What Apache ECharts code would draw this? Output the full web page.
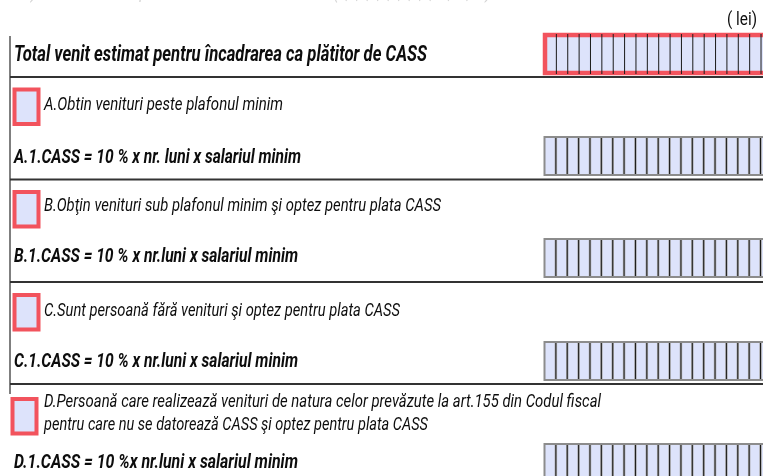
<!DOCTYPE html>
<html>
<head>
<meta charset="utf-8">
<script src="https://cdn.jsdelivr.net/npm/echarts@6/dist/echarts.min.js"></script>
<style>
  html, body { margin: 0; padding: 0; background: #fff; }
  #main { width: 763px; height: 476px; }
</style>
</head>
<body>
<div id="main"></div>
<script>
// texts of the form section
const headerText = "12.3.) Numărul de luni pentru care se datorează CASS (1,2,3,4,5,6,7,8,9,10,11,12)";
const unitLabel = "( lei)";
const titleText = "Total venit estimat pentru încadrarea ca plătitor de CASS";
const optionLabels = [
  ["A.Obtin venituri peste plafonul minim"],
  ["B.Obţin venituri sub plafonul minim şi optez pentru plata CASS"],
  ["C.Sunt persoană fără venituri şi optez pentru plata CASS"],
  ["D.Persoană care realizează venituri de natura celor prevăzute la art.155 din Codul fiscal",
   "pentru care nu se datorează CASS şi optez pentru plata CASS"]
];
const formulaLabels = [
  "A.1.CASS = 10 % x nr. luni x salariul minim",
  "B.1.CASS = 10 % x nr.luni x salariul minim",
  "C.1.CASS = 10 % x nr.luni x salariul minim",
  "D.1.CASS = 10 %x nr.luni x salariul minim"
];
const cellCount = 20;

// layout (px)
const sectionTop = [87.5, 190, 293, 397];
const optionY = [[105], [206], [311.5], [402, 425]];
const optionW = [[239], [397], [356], [557, 384]];
const formulaY = [157.5, 257, 362, 463];
const formulaW = [287, 284, 284, 284];
const boxTop = [137, 239, 342, 444];
const ruleY = [77, 179.5, 282, 384];

const RED = "#f2535d";
const FILL = "#dde3fb";
const FONT = "Roboto, 'Noto Sans', sans-serif";

const ctx = document.createElement("canvas").getContext("2d");
const measure = (text, font) => { ctx.font = font; return ctx.measureText(text).width; };

const fitText = (text, x, y, width, font, fill) => ({
  type: "text",
  x: x, y: y,
  scaleX: width / measure(text, font),
  style: { text: text, x: 0, y: 0, font: font, fill: fill || "#0d0d0d", align: "left", verticalAlign: "middle" }
});

const cells = (top, height, red) => {
  const left = red ? 545 : 544.5, cw = 11.37;
  const els = [{
    type: "rect",
    shape: { x: left, y: top, width: cw * cellCount, height: height },
    style: { fill: FILL, stroke: red ? RED : "#8c8c8c", lineWidth: red ? 4.5 : 2 }
  }];
  for (let i = 1; i < cellCount; i++) {
    const x = left + i * cw;
    if (!red) {
      els.push({ type: "line", shape: { x1: x, y1: top + 1, x2: x, y2: top + height - 1 },
        style: { stroke: "#a8a8a8", lineWidth: 2.5 } });
    }
    els.push({ type: "line", shape: { x1: x, y1: top - (red ? 2 : 0) + 1, x2: x, y2: top + height + (red ? 2 : 0) - 1 },
      style: { stroke: "#1a1a1a", lineWidth: 1 } });
  }
  return els;
};

const checkbox = (x, top) => ({
  type: "rect",
  shape: { x: x + 2, y: top + 2, width: 24, height: 34.5 },
  style: { fill: FILL, stroke: RED, lineWidth: 4 }
});

const elements = [];

// faded header cut at top
elements.push(fitText(headerText, 0, -5, 490, "italic 16px " + FONT, "#d4d4d4"));
elements.push(fitText(unitLabel, 727, 20, 30, "18px " + FONT));

// borders
elements.push({ type: "line", shape: { x1: 10, y1: 36, x2: 10, y2: 394 }, style: { stroke: "#555", lineWidth: 1.5 } });
ruleY.forEach(y => {
  elements.push({ type: "line", shape: { x1: 10, y1: y, x2: 763, y2: y }, style: { stroke: "#333", lineWidth: 2 } });
});

// title row
elements.push(fitText(titleText, 14, 55, 413, "italic bold 22px " + FONT));
elements.push(...cells(35, 38, true));

// sections
optionLabels.forEach((lines, i) => {
  elements.push(checkbox(i === 3 ? 10.5 : 12.5, sectionTop[i]));
  lines.forEach((t, j) => {
    elements.push(fitText(t, 44, optionY[i][j], optionW[i][j], "italic 19px " + FONT));
  });
  elements.push(fitText(formulaLabels[i], 14, formulaY[i], formulaW[i], "italic bold 20px " + FONT));
  elements.push(...cells(boxTop[i], i === 3 ? 60 : 38, false));
});

const chart = echarts.init(document.getElementById("main"));
chart.setOption({
  animation: false,
  graphic: { elements: elements }
});
window.addEventListener("resize", () => chart.resize());
</script>
</body>
</html>
